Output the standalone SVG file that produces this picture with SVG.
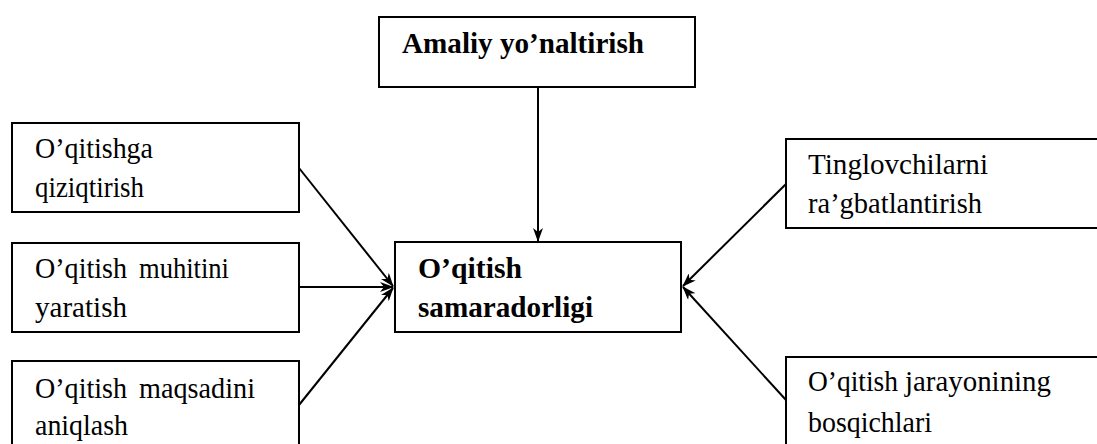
<svg xmlns="http://www.w3.org/2000/svg" width="1097" height="444" viewBox="0 0 1097 444">
  <defs>
    <marker id="arrow" viewBox="0 0 14 10" refX="13" refY="5" markerWidth="14" markerHeight="10" markerUnits="userSpaceOnUse" orient="auto">
      <path d="M0,0 L14,5 L0,10 L4,5 Z" fill="#000"/>
    </marker>
  </defs>
  <style>
    .box { fill: #fff; stroke: #000; stroke-width: 2; }
    text { font-family: 'Liberation Serif', 'Times New Roman', Times, serif; font-size: 29px; fill: #000; }
    .b { font-weight: bold; }
    .edge { stroke: #000; stroke-width: 2; fill: none; marker-end: url(#arrow); }
  </style>
  <rect width="1097" height="444" fill="#fff"/>

  <g id="connectors">
    <line class="edge" x1="538" y1="87" x2="538" y2="241"/>
    <line class="edge" x1="299" y1="168" x2="393" y2="286"/>
    <line class="edge" x1="299" y1="287" x2="393" y2="287"/>
    <line class="edge" x1="299" y1="405" x2="393" y2="288"/>
    <line class="edge" x1="786" y1="184" x2="683" y2="286"/>
    <line class="edge" x1="786" y1="400" x2="683" y2="287"/>
  </g>

  <g id="node-amaliy">
    <rect class="box" x="379" y="17" width="316" height="70"/>
    <text class="b" x="402" y="53" textLength="242" lengthAdjust="spacingAndGlyphs">Amaliy yo’naltirish</text>
  </g>

  <g id="node-samaradorlik">
    <rect class="box" x="395" y="242" width="286" height="90"/>
    <text class="b" x="418" y="278" textLength="104" lengthAdjust="spacingAndGlyphs">O’qitish</text>
    <text class="b" x="418" y="317" textLength="175" lengthAdjust="spacingAndGlyphs">samaradorligi</text>
  </g>

  <g id="node-qiziqtirish">
    <rect class="box" x="12" y="123" width="287" height="89"/>
    <text x="35" y="158" textLength="118" lengthAdjust="spacingAndGlyphs">O’qitishga</text>
    <text x="35" y="197" textLength="109" lengthAdjust="spacingAndGlyphs">qiziqtirish</text>
  </g>

  <g id="node-muhit">
    <rect class="box" x="12" y="243" width="287" height="89"/>
    <text x="35" y="278" textLength="92" lengthAdjust="spacingAndGlyphs">O’qitish</text>
    <text x="139" y="278" textLength="90" lengthAdjust="spacingAndGlyphs">muhitini</text>
    <text x="35" y="317" textLength="92" lengthAdjust="spacingAndGlyphs">yaratish</text>
  </g>

  <g id="node-maqsad">
    <rect class="box" x="12" y="361" width="287" height="100"/>
    <text x="35" y="398" textLength="92" lengthAdjust="spacingAndGlyphs">O’qitish</text>
    <text x="139" y="398" textLength="116" lengthAdjust="spacingAndGlyphs">maqsadini</text>
    <text x="35" y="435" textLength="93" lengthAdjust="spacingAndGlyphs">aniqlash</text>
  </g>

  <g id="node-ragbat">
    <rect class="box" x="786" y="139" width="330" height="89"/>
    <text x="808" y="174" textLength="180" lengthAdjust="spacingAndGlyphs">Tinglovchilarni</text>
    <text x="808" y="213" textLength="174" lengthAdjust="spacingAndGlyphs">ra’gbatlantirish</text>
  </g>

  <g id="node-bosqich">
    <rect class="box" x="786" y="357" width="330" height="100"/>
    <text x="808" y="391" textLength="90" lengthAdjust="spacingAndGlyphs">O’qitish</text>
    <text x="905" y="391" textLength="146" lengthAdjust="spacingAndGlyphs">jarayonining</text>
    <text x="808" y="432" textLength="124" lengthAdjust="spacingAndGlyphs">bosqichlari</text>
  </g>
</svg>
